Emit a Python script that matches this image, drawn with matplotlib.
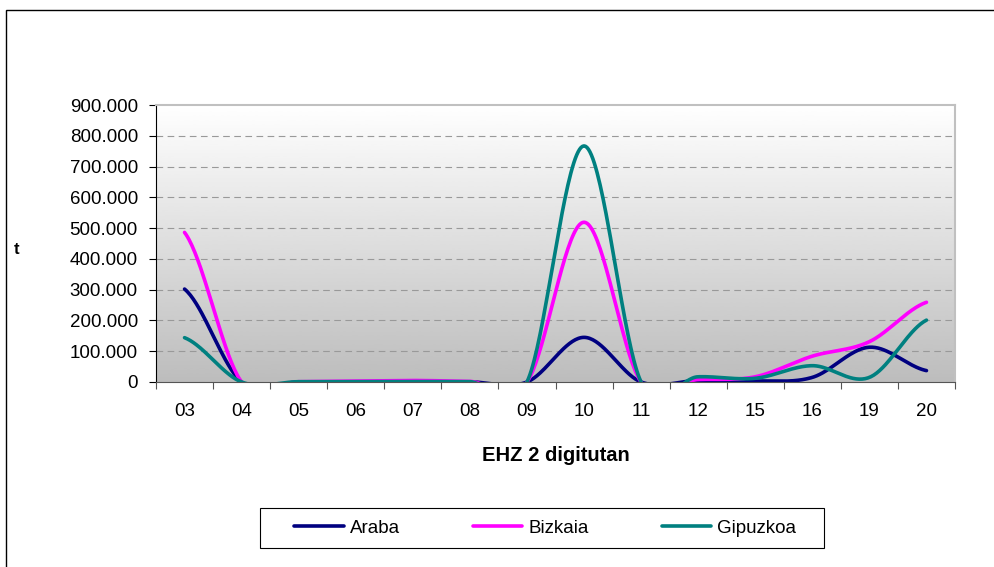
import matplotlib
matplotlib.use('Agg')
import matplotlib.pyplot as plt
from matplotlib.ticker import FuncFormatter
from matplotlib.patches import Rectangle
import numpy as np

plt.rcParams['font.family'] = ['Liberation Sans', 'DejaVu Sans']

categories = ['03', '04', '05', '06', '07', '08', '09', '10', '11', '12', '15', '16', '19', '20']
araba = [302000, 0, 500, 800, 1000, 500, 0, 145000, 0, 5000, 3000, 15000, 113000, 37000]
bizkaia = [486000, 0, 1000, 3000, 5000, 2000, 0, 519000, 0, 8000, 17000, 84000, 131000, 259000]
gipuzkoa = [144000, 0, 1000, 1000, 1500, 1000, 0, 767000, 0, 17000, 12000, 53000, 15000, 201000]

series = [('Araba', araba, '#000080'),
          ('Bizkaia', bizkaia, '#FF00FF'),
          ('Gipuzkoa', gipuzkoa, '#008080')]


def smooth(vals, steps=40):
    # catmull-rom, like excel's smoothed line
    p = np.array(vals, dtype=float)
    p = np.concatenate([[p[0]], p, [p[-1]]])
    xs, ys = [], []
    for i in range(1, len(p) - 2):
        p0, p1, p2, p3 = p[i - 1], p[i], p[i + 1], p[i + 2]
        t = np.linspace(0, 1, steps)
        c1 = p1 + (p2 - p0) / 6
        c2 = p2 - (p3 - p1) / 6
        y = (1 - t)**3 * p1 + 3 * (1 - t)**2 * t * c1 + 3 * (1 - t) * t**2 * c2 + t**3 * p2
        xs.append(i - 1 + t + 0.5)
        ys.append(y)
    return np.concatenate(xs), np.concatenate(ys)


W, H = 995, 567
fig = plt.figure(figsize=(W / 100, H / 100), dpi=100)
fig.patches.append(Rectangle((6 / W, -0.1), 1.2, 1 - 10 / H + 0.1, transform=fig.transFigure,
                             fill=False, ec='black', lw=1))
# legend box
fig.patches.append(Rectangle((260 / W, 1 - 548 / H), 564 / W, 40 / H, transform=fig.transFigure,
                             fill=False, ec='black', lw=0.8))

ax = fig.add_axes([156 / W, 1 - 382 / H, 799 / W, 277 / H])

grad = np.linspace(1.0, 0.74, 256).reshape(-1, 1)
ax.imshow(grad, cmap='gray', vmin=0, vmax=1, aspect='auto', extent=[0, 1, 0, 1],
          transform=ax.transAxes, zorder=0, interpolation='bicubic')

for name, vals, col in series:
    x, y = smooth(vals)
    ax.plot(x, y, color=col, lw=2.6, label=name, zorder=3, solid_capstyle='round')

ax.set_xlim(0, len(categories))
ax.set_ylim(0, 900000)
ax.set_yticks(np.arange(0, 900001, 100000))
ax.yaxis.set_major_formatter(FuncFormatter(lambda v, p: f"{int(v):,}".replace(',', '.')))
for yv in range(100000, 900000, 100000):
    ax.axhline(yv, color='#999999', lw=0.8, ls=(0, (6, 4)), zorder=1)

ax.set_xticks(np.arange(0, len(categories) + 1))
ax.set_xticklabels([])
ax.set_xticks(np.arange(len(categories)) + 0.5, minor=True)
ax.set_xticklabels(categories, minor=True)
ax.tick_params(axis='x', which='major', direction='out', length=5, color='#555555')
ax.tick_params(axis='x', which='minor', length=0, pad=15, labelsize=13.5)
ax.tick_params(axis='y', direction='out', length=5, color='black', labelsize=13.5, pad=8)

for s in ['top', 'right']:
    ax.spines[s].set_color('#c0c0c0')
    ax.spines[s].set_linewidth(1.5)
ax.spines['left'].set_color('black')
ax.spines['bottom'].set_color('#555555')
for s in ax.spines.values():
    s.set_zorder(4)

fig.text(14 / W, 1 - 250 / H, 't', fontsize=12, fontweight='bold', ha='left', va='center')
ax.set_xlabel('EHZ 2 digitutan', fontsize=14.5, fontweight='bold', labelpad=19)

leg = fig.legend(loc='center', bbox_to_anchor=(545 / W, 1 - 528 / H), ncol=3, fontsize=13.5,
                 frameon=False, columnspacing=3.9,
                 handlelength=2.65, handletextpad=0.3, borderpad=0.6, borderaxespad=0)

fig.savefig('out.png', dpi=100)
